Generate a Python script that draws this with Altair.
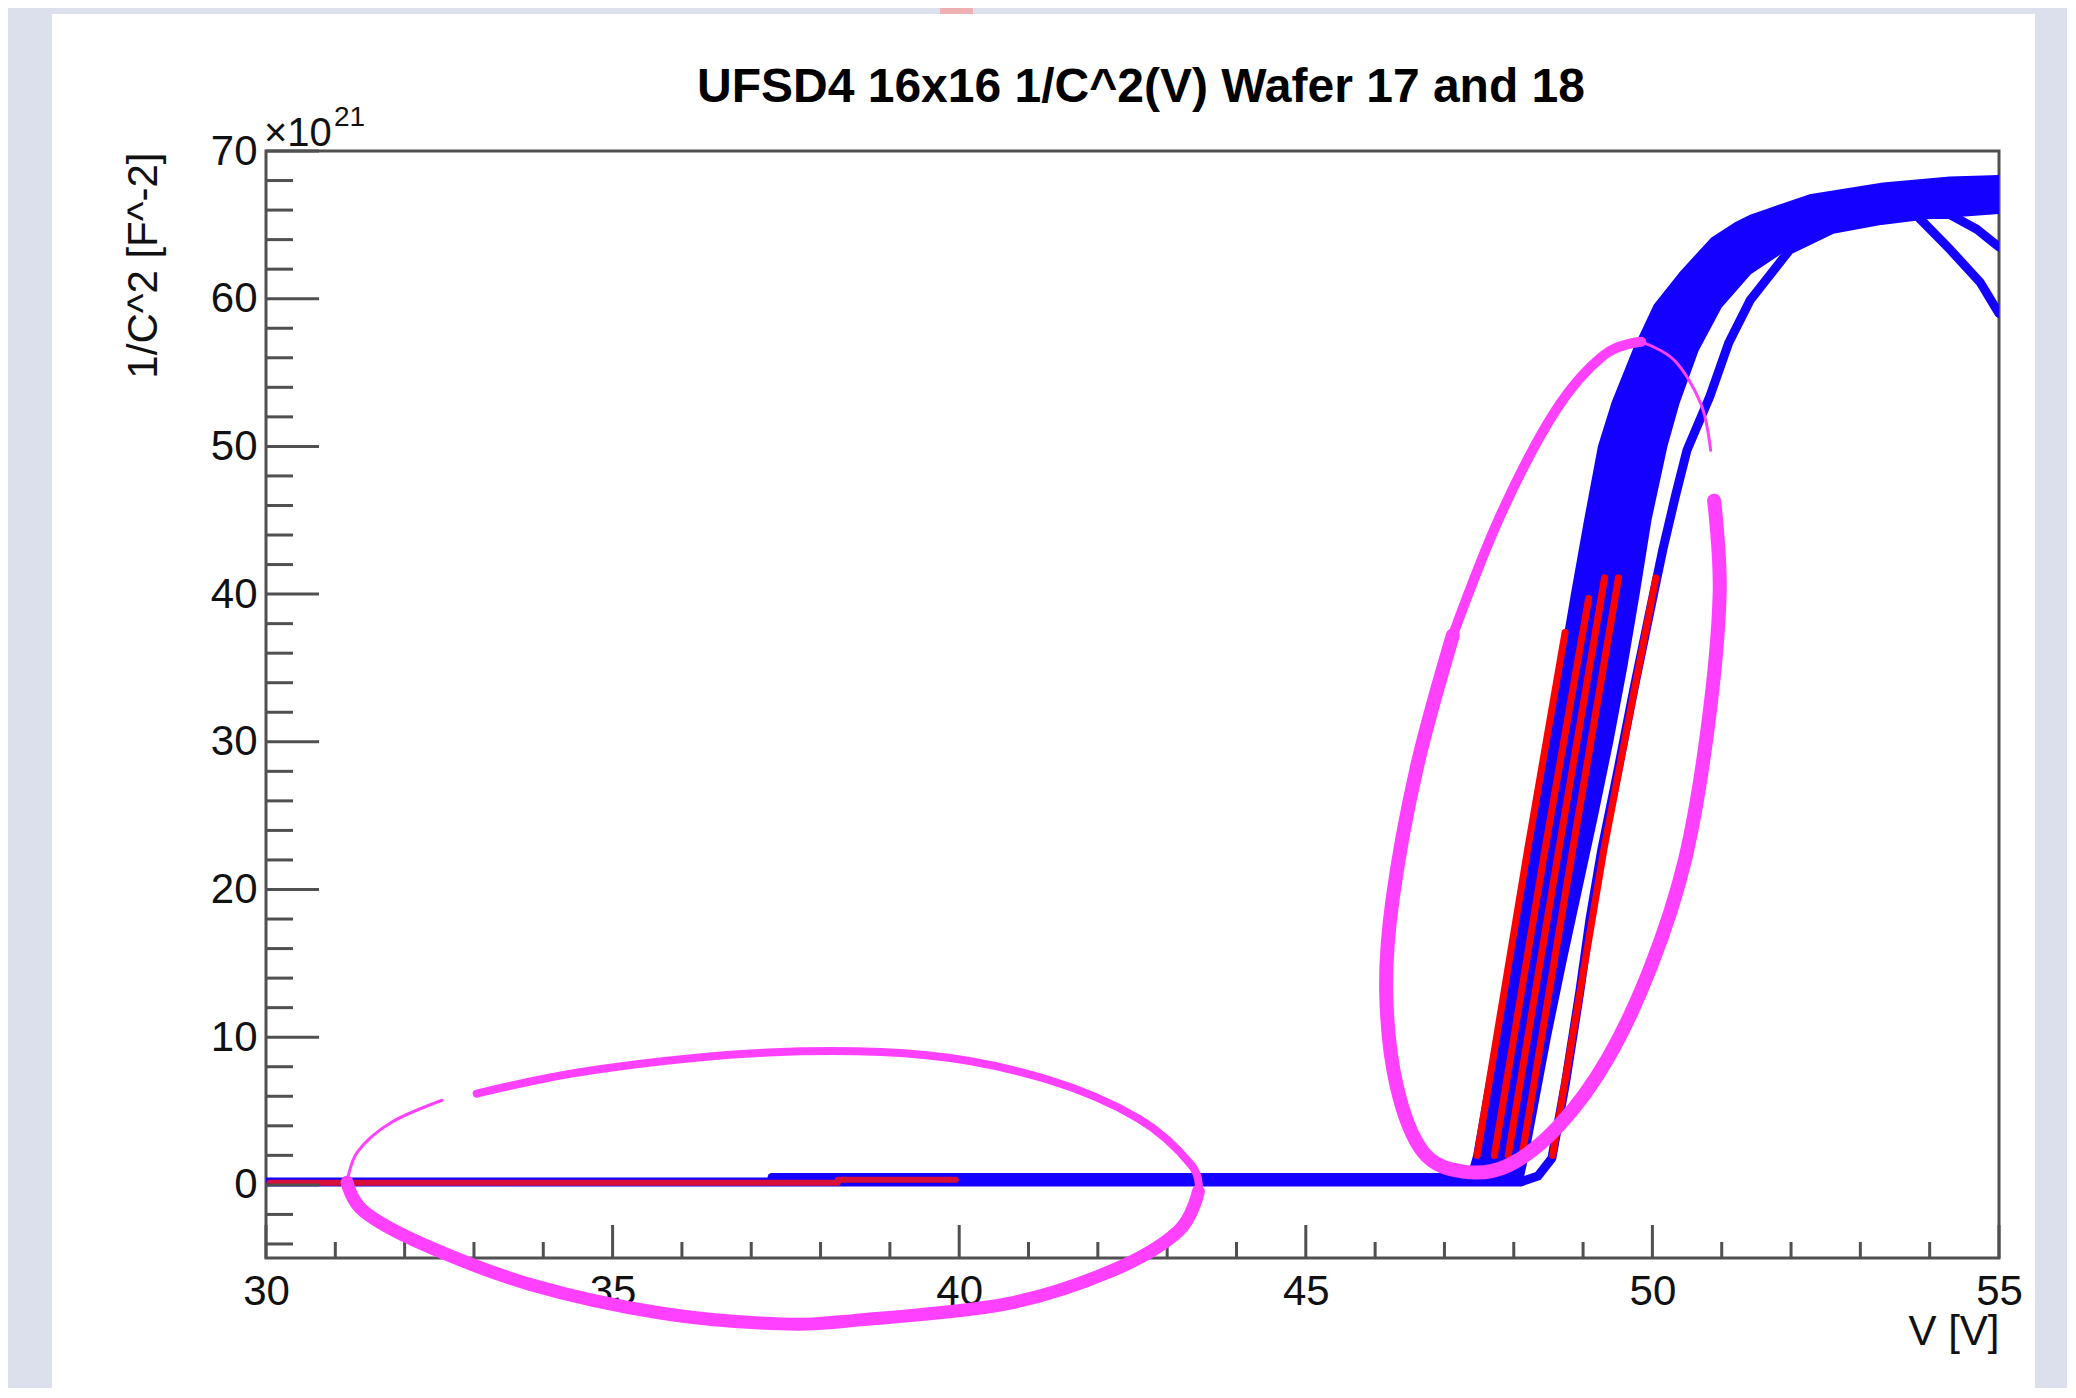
import altair as alt
import pandas as pd

# ---------------- values ----------------
# V in volts, Y = 1/C^2 in units of 1e21 F^-2
TITLE = "UFSD4 16x16 1/C^2(V) Wafer 17 and 18"
X_TITLE = "V [V]"
Y_TITLE = "1/C^2 [F^-2]"

X_MAJOR = [30, 35, 40, 45, 50, 55]
X_MINOR = [31, 32, 33, 34, 36, 37, 38, 39, 41, 42, 43, 44, 46, 47, 48, 49, 51, 52, 53, 54]
Y_MAJOR = [0, 10, 20, 30, 40, 50, 60, 70]
Y_MINOR = [-4, -2, 2, 4, 6, 8, 12, 14, 16, 18, 22, 24, 26, 28, 32, 34, 36, 38,
           42, 44, 46, 48, 52, 54, 56, 58, 62, 64, 66, 68]

# envelope of the dense blue band: upper/left edge and lower/right edge
bandL_Y = [0.3, 2, 6, 10, 15, 20, 25, 30, 35, 40, 45, 50, 53, 56.5, 59.5, 61.8,
           64, 65, 65.5, 65.9, 66.9, 67.7, 68.1, 68.2]
bandL_V = [47.35, 47.45, 47.6, 47.75, 47.95, 48.13, 48.3, 48.5, 48.68, 48.86, 49.05,
           49.25, 49.45, 49.75, 50.05, 50.44, 50.87, 51.2, 51.41, 51.65, 52.27, 53.33,
           54.29, 55.0]
bandR_Y = [0.3, 2, 6, 10, 15, 20, 25, 30, 35, 40, 45, 50, 53, 56.5, 59.5, 61.8,
           64, 65, 65.5, 65.9]
bandR_V = [48.1, 48.18, 48.34, 48.5, 48.72, 48.95, 49.18, 49.4, 49.6, 49.78, 49.95,
           50.18, 50.36, 50.63, 50.97, 51.4, 52.1, 52.75, 53.82, 55.0]

# separate blue curve on the right (also carries the flat part) that drops at the end
sepA_V = [30, 48.1, 48.35, 48.55, 48.75, 48.95, 49.1, 49.27, 49.5, 49.73, 49.95, 50.15,
          50.33, 50.5, 50.83, 51.1, 51.41, 51.98, 52.6, 53.3, 53.82, 54.3, 54.73, 55.0]
sepA_Y = [0.2, 0.2, 0.6, 1.8, 7, 13, 18, 22.7, 28, 33.5, 38.5, 43, 46.6, 49.76, 53.4,
          57, 59.9, 63.3, 64.7, 65.3, 65.6, 63.3, 61.1, 59.0]
# second blue branch that bends down near 55 V
sepB_V = [52.0, 52.75, 53.5, 54.29, 54.68, 55.0]
sepB_Y = [64.3, 65.3, 65.7, 65.7, 64.7, 63.5]
# upper flat blue trace starting at 37.3 V
step_V = [37.3, 48.0]
step_Y = [0.5, 0.5]

# red traces
redflat1_V = [30.05, 38.25]
redflat1_Y = [0.15, 0.15]
redflat2_V = [38.25, 39.95]
redflat2_Y = [0.35, 0.35]
red_steep_V = [
    [47.47, 48.2, 48.74],
    [47.72, 48.45, 49.08],
    [47.92, 48.65, 49.31],
    [48.12, 48.85, 49.51],
    [48.56, 49.3, 50.05],
]
red_steep_Y = [
    [2.0, 22.7, 37.4],
    [2.0, 22.7, 39.7],
    [2.0, 22.7, 41.1],
    [2.0, 22.7, 41.1],
    [2.0, 22.7, 41.1],
]

# magenta hand-drawn marks (segments with their own pen width)
ell_segments = [
    # lower ellipse
    ([33.04, 34.76, 37.24, 39.53, 41.25, 42.59, 43.35, 43.45],
     [6.18, 7.80, 8.96, 8.78, 7.17, 4.48, 1.34, -0.45], 8),
    ([43.45, 43.16, 42.20, 40.68, 38.58, 37.43, 35.71, 33.80, 32.27, 31.41, 31.17],
     [-0.45, -3.14, -5.82, -8.06, -9.14, -9.41, -8.69, -6.72, -4.03, -1.79, 0.18], 13),
    ([31.17, 31.32, 31.80, 32.54],
     [0.18, 2.24, 4.21, 5.73], 3),
    # tilted ellipse
    ([50.89, 50.97, 50.8, 50.47, 49.98, 49.35, 48.65, 47.93, 47.27, 46.69, 46.31,
      46.16, 46.25, 46.6, 47.12],
     [46.33, 40.0, 31.0, 22.0, 14.8, 8.5, 4.0, 1.34, 0.90, 2.24, 6.72, 12.99,
      19.27, 28.23, 37.2], 14),
    ([47.12, 47.8, 48.6, 49.3, 49.84],
     [37.2, 45.25, 52.4, 56.18, 57.08], 10),
    ([49.84, 50.32, 50.70, 50.84],
     [57.08, 55.82, 52.87, 49.73], 3),
]

# ---------------- styles ----------------
BLUE = "#1400ff"
RED = "#ff0000"
RED_FLAT = "#d80f36"
MAGENTA = "#ff40ff"
GRAY_BG = "#dce0ec"
PINK = "#efb0b4"
FRAME = "#505050"
FONT = "Liberation Sans"
W, H = 1733, 1107

XS = alt.Scale(domain=[30, 55], nice=False, zero=False)
YS = alt.Scale(domain=[-4.95, 70], nice=False, zero=False)
XA = alt.Axis(values=X_MAJOR, labelPadding=13, labelFlush=False, labelOverlap=False,
              title=X_TITLE, titleX=W, titleY=73, titleAlign="right",
              titleBaseline="middle")
YA = alt.Axis(values=Y_MAJOR, labelPadding=9, labelOverlap=False, title=Y_TITLE,
              titleAngle=270, titleX=-123, titleY=1, titleAlign="right",
              titleBaseline="middle")


def X(field):
    return alt.X(f"{field}:Q", scale=XS, axis=XA)


def Y(field):
    return alt.Y(f"{field}:Q", scale=YS, axis=YA)


one = alt.Data(values=[{"a": 1}])


def prect(x0, x1, y0, y1, color):
    return alt.Chart(one).mark_rect(color=color).encode(
        x=alt.value(x0), x2=alt.value(x1), y=alt.value(y0), y2=alt.value(y1))


# ---------------- data frames ----------------
# closed outline of the band: up the left edge, back down the right edge
poly_V = bandL_V + bandR_V[::-1]
poly_Y = bandL_Y + bandR_Y[::-1]
band_df = pd.DataFrame({"i": range(len(poly_V)), "V": poly_V, "Y": poly_Y})

rows = []
for name, vs, ys in [("sepA", sepA_V, sepA_Y), ("sepB", sepB_V, sepB_Y), ("step", step_V, step_Y)]:
    for i, (v, y) in enumerate(zip(vs, ys)):
        rows.append({"s": name, "i": i, "V": v, "Y": y})
blue_df = pd.DataFrame(rows)

rows = []
for name, vs, ys, w, c in [("rf1", redflat1_V, redflat1_Y, 6, RED_FLAT),
                           ("rf2", redflat2_V, redflat2_Y, 6, RED_FLAT)]:
    for i, (v, y) in enumerate(zip(vs, ys)):
        rows.append({"s": name, "i": i, "V": v, "Y": y, "w": w, "c": c})
for k, (vs, ys) in enumerate(zip(red_steep_V, red_steep_Y)):
    for i, (v, y) in enumerate(zip(vs, ys)):
        rows.append({"s": f"r{k}", "i": i, "V": v, "Y": y, "w": 7, "c": RED})
red_df = pd.DataFrame(rows)

rows = []
for k, (vs, ys, w) in enumerate(ell_segments):
    for i, (v, y) in enumerate(zip(vs, ys)):
        rows.append({"s": f"e{k}", "i": i, "V": v, "Y": y, "w": w})
mag_df = pd.DataFrame(rows)

# ---------------- layers ----------------
bg = [
    prect(-258, -214, -143, 1240, GRAY_BG),
    prect(1769, 1820, -143, 1240, GRAY_BG),
    prect(-258, 1820, -143, -137, GRAY_BG),
    prect(674, 707, -143, -137, PINK),
]

xmaj = alt.Chart(pd.DataFrame({"V": X_MAJOR})).mark_rule(color=FRAME, strokeWidth=3).encode(
    x=X("V"), y=alt.value(H), y2=alt.value(H - 33))
xmin = alt.Chart(pd.DataFrame({"V": X_MINOR})).mark_rule(color=FRAME, strokeWidth=3).encode(
    x=X("V"), y=alt.value(H), y2=alt.value(H - 16))
ymaj = alt.Chart(pd.DataFrame({"Y": Y_MAJOR})).mark_rule(color=FRAME, strokeWidth=3).encode(
    y=Y("Y"), x=alt.value(0), x2=alt.value(53))
ymin = alt.Chart(pd.DataFrame({"Y": Y_MINOR})).mark_rule(color=FRAME, strokeWidth=3).encode(
    y=Y("Y"), x=alt.value(0), x2=alt.value(27))

band = alt.Chart(band_df).mark_line(fill=BLUE, color=BLUE, strokeWidth=5,
                                     strokeJoin="round", interpolate="linear-closed",
                                     clip=True).encode(
    x=X("V"), y=Y("Y"), order=alt.Order("i:Q"))

blue_lines = alt.Chart(blue_df).mark_line(color=BLUE, strokeWidth=9, strokeCap="round",
                                           strokeJoin="round", clip=True).encode(
    x=X("V"), y=Y("Y"), detail="s:N", order=alt.Order("i:Q"))

red_lines = alt.Chart(red_df).mark_line(strokeCap="round", strokeJoin="round", clip=True).encode(
    x=X("V"), y=Y("Y"), detail="s:N", order=alt.Order("i:Q"),
    color=alt.Color("c:N", scale=None), strokeWidth=alt.StrokeWidth("w:Q", scale=None))

mag = alt.Chart(mag_df).mark_line(color=MAGENTA, strokeCap="round", strokeJoin="round",
                                   interpolate="cardinal").encode(
    x=X("V"), y=Y("Y"), detail="s:N", order=alt.Order("i:Q"),
    strokeWidth=alt.StrokeWidth("w:Q", scale=None))

title = alt.Chart(one).mark_text(text=TITLE, font=FONT, fontSize=48, fontWeight="bold",
                                 color="#000000", align="center", baseline="alphabetic").encode(
    x=alt.value(875), y=alt.value(-49))
exp1 = alt.Chart(one).mark_text(text="\u00d710", font=FONT, fontSize=40, color="#111111",
                                align="left", baseline="alphabetic").encode(
    x=alt.value(-2), y=alt.value(-5))
exp2 = alt.Chart(one).mark_text(text="21", font=FONT, fontSize=28, color="#111111",
                                align="left", baseline="alphabetic").encode(
    x=alt.value(68), y=alt.value(-25))

chart = alt.layer(
    *bg, band, blue_lines, red_lines, xmaj, xmin, ymaj, ymin, mag, title, exp1, exp2
).properties(
    width=W, height=H,
    padding={"left": 258, "top": 143, "right": 68, "bottom": 130},
    autosize=alt.AutoSizeParams(type="none"),
    background="white",
).configure_view(
    stroke=FRAME, strokeWidth=3
).configure_axis(
    labelFont=FONT, titleFont=FONT, labelFontSize=42, titleFontSize=42,
    labelColor="#111111", titleColor="#111111", titleFontWeight="normal",
    grid=False, domain=False, ticks=False, tickSize=0,
)

chart.save("out.html", embed_options={"renderer": "svg", "actions": False})
